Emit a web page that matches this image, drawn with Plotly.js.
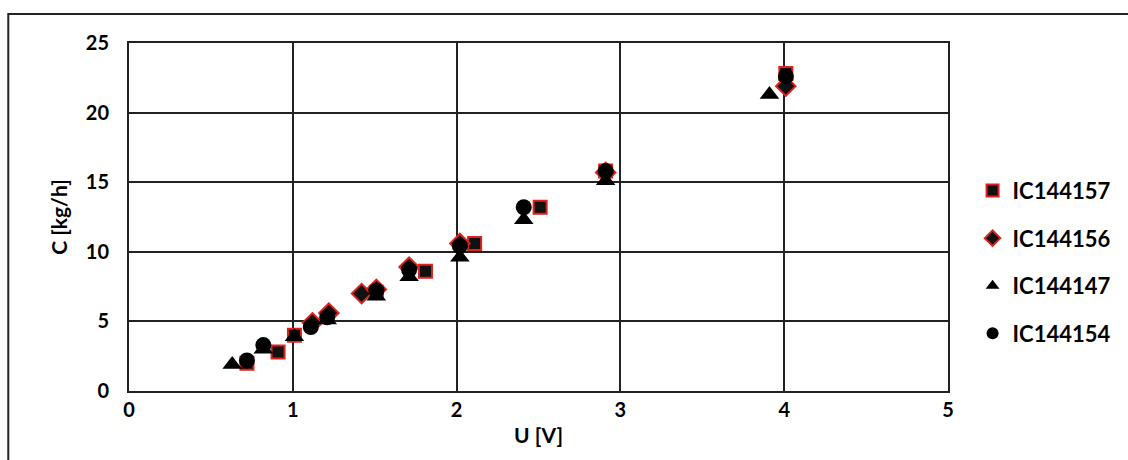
<!DOCTYPE html>
<html><head><meta charset="utf-8">
<script src="https://cdn.plot.ly/plotly-3.0.1.min.js"></script>
<style>html,body{margin:0;padding:0;background:#fff;}#chart{width:1128px;height:460px;}</style>
</head><body><div id="chart"></div>
<script>
const seriesNames = ["IC144157", "IC144156", "IC144147", "IC144154"];
const u157 = [0.72, 0.91, 1.01, 1.51, 1.81, 2.11, 2.51, 2.91, 4.01];
const c157 = [2.0, 2.8, 4.0, 7.1, 8.6, 10.6, 13.2, 15.8, 22.8];
const u156 = [1.12, 1.22, 1.42, 1.51, 1.71, 2.02, 2.91, 4.01];
const c156 = [4.9, 5.6, 7.0, 7.3, 8.9, 10.6, 15.7, 21.9];
const u147 = [0.63, 0.82, 1.01, 1.21, 1.51, 1.71, 2.02, 2.41, 2.91, 3.91];
const c147 = [1.9, 3.0, 3.9, 5.1, 6.8, 8.2, 9.6, 12.3, 15.1, 21.3];
const u154 = [0.72, 0.82, 1.11, 1.21, 1.51, 1.71, 2.02, 2.41, 2.91, 4.01];
const c154 = [2.2, 3.3, 4.6, 5.3, 7.2, 8.7, 10.4, 13.2, 15.8, 22.6];

const font = "Lato, 'Open Sans', sans-serif";
const traces = [
  {x: u157, y: c157, name: seriesNames[0], legendgroup: "a", mode: "markers", type: "scatter",
   marker: {symbol: "square", size: 13, color: "#111", line: {color: "#e0201b", width: 2}}},
  {x: u156, y: c156, name: seriesNames[1], legendgroup: "b", mode: "markers", type: "scatter",
   marker: {symbol: "diamond", size: 15, color: "#111", line: {color: "#e0201b", width: 2}}},
  {x: u147, y: c147, name: seriesNames[2], legendgroup: "c", mode: "markers", type: "scatter",
   marker: {symbol: "triangle-up", size: 17, color: "#000", line: {width: 0}}},
  {x: u154, y: c154, name: seriesNames[3], legendgroup: "d", mode: "markers", type: "scatter",
   marker: {symbol: "circle", size: 16, color: "#000", line: {width: 0}}}
];
const layout = {
  width: 1128, height: 460,
  margin: {l: 129, r: 178, t: 43, b: 69},
  paper_bgcolor: "#fff", plot_bgcolor: "#fff",
  font: {family: font, color: "#000", size: 20},
  showlegend: true,
  legend: {x: 1.03, y: 0.37, yanchor: "middle", xanchor: "left",
           font: {family: font, size: 22, color: "#000", weight: "bold"},
           itemsizing: "constant", tracegroupgap: 16},
  xaxis: {range: [0, 5], dtick: 1, tick0: 0, showgrid: true, gridcolor: "#222", gridwidth: 2,
          showline: true, linecolor: "#222", linewidth: 2, mirror: true, zeroline: false,
          ticks: "outside", ticklen: 0, tickfont: {size: 20, family: font, weight: "bold"},
          title: {text: "U [V]", font: {size: 21, family: font, weight: "bold"}, standoff: 8}},
  yaxis: {range: [0, 25], dtick: 5, tick0: 0, showgrid: true, gridcolor: "#222", gridwidth: 2,
          showline: true, linecolor: "#222", linewidth: 2, mirror: true, zeroline: false,
          ticks: "outside", ticklen: 0, ticklabelstandoff: 14, tickfont: {size: 20, family: font, weight: "bold"},
          title: {text: "C [kg/h]", font: {size: 21, family: font, weight: "bold"}, standoff: 12}},
  shapes: [{type: "rect", xref: "paper", yref: "paper", x0: -0.1474, x1: 1.5, y0: -1, y1: 1.0833,
            line: {color: "#222", width: 2}, fillcolor: "rgba(0,0,0,0)", layer: "below"}]
};
Plotly.newPlot("chart", traces, layout, {displayModeBar: false, staticPlot: true});
</script></body></html>
